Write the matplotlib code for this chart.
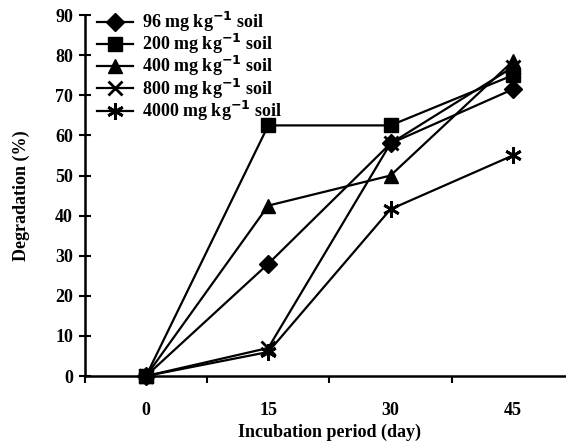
import matplotlib
matplotlib.use("Agg")
import matplotlib.pyplot as plt
import numpy as np

plt.rcParams["font.family"] = ["Liberation Serif", "DejaVu Serif"]
plt.rcParams["font.weight"] = "bold"
plt.rcParams["mathtext.default"] = "bf"

days = ["0", "15", "30", "45"]
deg_96 = [0, 28, 58, 71.5]
deg_200 = [0, 62.5, 62.5, 75]
deg_400 = [0, 42.5, 50, 78.5]
deg_800 = [0, 7, 58, 77]
deg_4000 = [0, 6, 41.6, 55]

series = [
    ("96 mg kg$^{-1}$ soil", deg_96, "D", 9),
    ("200 mg kg$^{-1}$ soil", deg_200, "s", 10),
    ("400 mg kg$^{-1}$ soil", deg_400, "^", 10),
    ("800 mg kg$^{-1}$ soil", deg_800, "x", 10),
    ("4000 mg kg$^{-1}$ soil", deg_4000, (6, 2, 0), 12),
]

fig = plt.figure(figsize=(5.66, 4.45), dpi=100)
ax = fig.add_axes([0.150, 0.155, 0.864, 0.811])

x = np.arange(len(days))
for label, vals, mk, ms in series:
    ax.plot(x, vals, color="black", lw=1.6, marker=mk, markersize=ms,
            markeredgewidth=2 if mk in ("x", (6, 2, 0)) else 1,
            label=label, clip_on=False)

ax.set_xlim(-0.5, 3.5)
ax.set_ylim(0, 90)
ax.set_yticks(range(0, 91, 10))
ax.set_xticks(x)
ax.set_xticklabels(days)
ax.set_xticks(np.arange(-0.5, 3.6, 1), minor=True)
ax.tick_params(axis="x", which="major", length=0, pad=19, labelsize=13)
ax.tick_params(axis="x", which="minor", length=5, width=1.5, direction="out")
ax.tick_params(axis="y", length=9, width=1.5, direction="inout", labelsize=13, pad=4)

for s in ["top", "right"]:
    ax.spines[s].set_visible(False)
for s in ["left", "bottom"]:
    ax.spines[s].set_linewidth(1.8)

ax.set_xlabel("Incubation period (day)", fontsize=13, fontweight="bold", labelpad=3)
ax.set_ylabel("Degradation (%)", fontsize=13, fontweight="bold", labelpad=18)

leg = ax.legend(loc="upper left", bbox_to_anchor=(0.01, 1.035), frameon=False,
                fontsize=13, handlelength=2.0, handletextpad=0.5,
                labelspacing=-0.1, borderaxespad=0)

fig.savefig("out.png", dpi=100)
